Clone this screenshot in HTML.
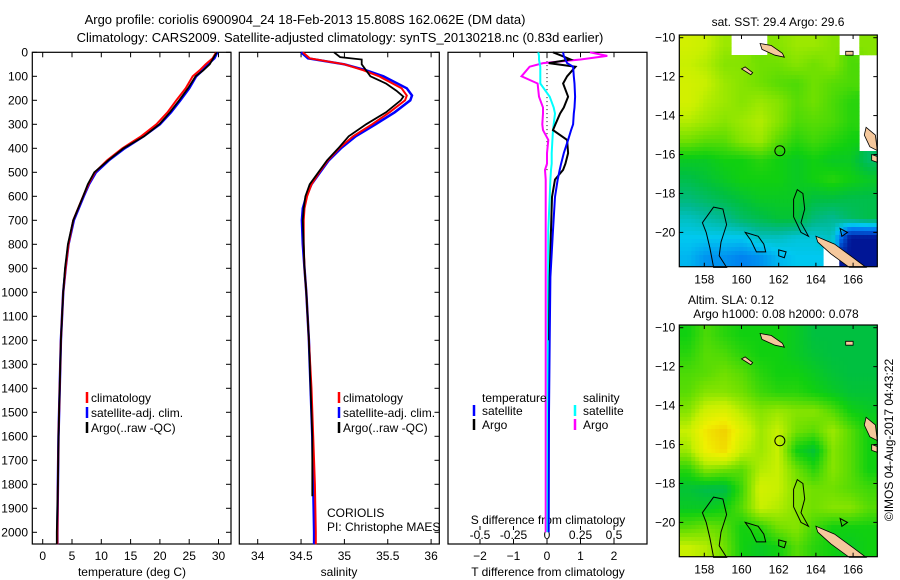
<!DOCTYPE html>
<html><head><meta charset="utf-8">
<style>
html,body{margin:0;padding:0;background:#fff;}
svg{display:block;font-family:"Liberation Sans",sans-serif;}
text{font-size:12px;fill:#000;}
</style></head>
<body>
<svg id="fig" width="900" height="580" viewBox="0 0 900 580" xmlns="http://www.w3.org/2000/svg">
<text x="305" y="24" text-anchor="middle" style="font-size:13px">Argo profile: coriolis 6900904_24 18-Feb-2013 15.808S 162.062E (DM data)</text>
<text x="340" y="42" text-anchor="middle" style="font-size:13px">Climatology: CARS2009. Satellite-adjusted climatology: synTS_20130218.nc (0.83d earlier)</text>
<g id="g"></g>
</svg>
<script>
// ---------- data ----------
const depthTicks=[0,100,200,300,400,500,600,700,800,900,1000,1100,1200,1300,1400,1500,1600,1700,1800,1900,2000];
const tempTicks=[0,5,10,15,20,25,30];
const salTicks=[34,34.5,35,35.5,36];
const salTickLabels=["34","34.5","35","35.5","36"];
const tdTicks=[-2,-1,0,1,2];
const sdTicks=[-0.5,-0.25,0,0.25,0.5];
const sdTickLabels=["-0.5","-0.25","0","0.25","0.5"];

const tDepth=[0,25,50,75,100,150,200,250,300,350,400,450,500,550,600,700,800,900,1000,1200,1400,1600,1800,2000,2050];
const tClim=[29.6,29.0,27.8,26.8,25.6,24.4,22.8,21.3,19.4,16.8,13.6,11.0,8.9,7.8,6.9,5.2,4.4,3.9,3.5,3.1,2.9,2.7,2.6,2.5,2.5];
const tSat=[29.8,29.3,28.2,27.3,26.2,25.0,23.5,21.9,20.0,17.2,14.0,11.3,9.1,7.9,7.0,5.3,4.4,3.9,3.5,3.1,2.9,2.7,2.6,2.5,2.5];
const tArgo=[29.7,29.1,28.5,27.4,26.1,24.8,23.3,21.7,19.9,17.3,13.8,11.2,8.8,7.7,6.9,5.2,4.3,3.8,3.5,3.1,2.9,2.7,2.6,2.4,2.4];

const sDepth=[0,25,50,75,100,150,180,200,250,300,350,400,450,500,550,600,650,700,800,900,1000,1200,1400,1600,1800,2000,2050];
const sClim=[34.52,34.6,35.0,35.22,35.4,35.66,35.72,35.7,35.52,35.32,35.1,34.94,34.81,34.71,34.62,34.57,34.54,34.53,34.53,34.54,34.56,34.59,34.62,34.64,34.66,34.67,34.67];
const sSat=[34.5,34.58,35.0,35.25,35.45,35.72,35.78,35.76,35.58,35.36,35.13,34.96,34.82,34.72,34.62,34.56,34.52,34.51,34.52,34.54,34.56,34.59,34.61,34.63,34.64,34.65,34.65];
const sArgoDepth=[0,20,30,50,75,100,130,160,185,200,250,300,350,400,450,500,550,600,650,700,800,900,1000,1200,1400,1600,1800,1850];
const sArgo=[34.88,34.95,35.2,35.2,35.25,35.3,35.48,35.6,35.68,35.65,35.48,35.25,35.05,34.93,34.8,34.7,34.6,34.55,34.53,34.52,34.53,34.54,34.56,34.59,34.61,34.63,34.63,34.63];

const dDepth=[0,15,30,45,60,100,130,185,230,255,300,324,365,420,464,490,530,603,741,936,1200,1500,2000];
const dTSat=[0.48,0.5,0.55,0.6,0.78,0.8,0.82,0.84,0.82,0.8,0.78,0.72,0.63,0.5,0.42,0.38,0.32,0.24,0.18,0.1,0.08,0.06,0.05];
const dTArgo=[0.18,0.45,0.7,0.05,0.85,0.6,0.48,0.63,0.5,0.39,0.25,0.18,0.6,0.63,0.55,0.48,0.24,0.15,0.12,0.08,0.06,0.05,0.05];
const dSSat=[-0.065,-0.06,-0.06,-0.055,-0.05,-0.05,-0.05,0.02,0.05,0.06,0.05,0.045,0.04,0.035,0.035,0.03,0.025,0.02,0.01,0.008,0.006,0.005,0.004];
const dSArgo=[0.32,0.45,0.25,-0.03,-0.13,-0.19,-0.07,-0.06,-0.03,-0.03,-0.035,-0.03,0.01,0.0,0.0,-0.015,-0.01,-0.01,-0.01,-0.01,-0.01,-0.01,-0.01];

const sstGrid=[
[0.68,0.66,0.62,null,null,0.6,0.62,0.62,0.6,null,0.6],
[0.66,0.64,0.6,0.6,0.58,0.58,0.6,0.58,0.6,0.55,null],
[0.68,0.66,0.62,0.6,0.58,0.56,0.55,0.58,0.56,0.55,null],
[0.68,0.64,0.62,0.6,0.62,0.6,0.56,0.58,0.55,0.52,null],
[0.64,0.62,0.6,0.62,0.64,0.6,0.55,0.56,0.55,0.52,null],
[0.58,0.56,0.56,0.6,0.62,0.56,0.52,0.54,0.52,0.5,null],
[0.48,0.48,0.5,0.5,0.52,0.5,0.48,0.5,0.48,0.48,0.42],
[0.44,0.46,0.48,0.5,0.5,0.5,0.48,0.5,0.52,0.5,0.48],
[0.4,0.42,0.44,0.46,0.48,0.48,0.48,0.45,0.45,0.44,0.44],
[0.34,0.36,0.38,0.42,0.44,0.46,0.46,0.4,0.38,0.42,0.44],
[0.3,0.3,0.3,0.3,0.34,0.34,0.32,0.32,0.34,0.04,0.04],
[0.28,0.24,0.24,0.22,0.24,0.28,0.3,0.3,null,0.04,0.04]];
const slaGrid=[
[0.5,0.55,0.52,0.5,0.5,0.5,0.48,0.45,0.45,0.45,0.45],
[0.52,0.56,0.55,0.52,0.5,0.5,0.48,0.46,0.45,0.45,0.45],
[0.55,0.56,0.58,0.56,0.52,0.5,0.5,0.48,0.46,0.45,0.45],
[0.56,0.6,0.6,0.58,0.54,0.52,0.52,0.5,0.48,0.46,0.46],
[0.6,0.68,0.7,0.64,0.6,0.62,0.6,0.6,0.56,0.5,0.48],
[0.66,0.76,0.8,0.7,0.62,0.66,0.58,0.56,0.62,0.56,0.5],
[0.62,0.74,0.78,0.66,0.62,0.66,0.5,0.46,0.6,0.56,0.5],
[0.52,0.6,0.58,0.56,0.64,0.66,0.58,0.52,0.6,0.56,0.5],
[0.46,0.44,0.44,0.54,0.68,0.66,0.6,0.58,0.58,0.56,0.54],
[0.48,0.48,0.5,0.56,0.66,0.64,0.6,0.58,0.6,0.6,0.56],
[0.56,0.58,0.56,0.5,0.52,0.58,0.6,0.54,0.5,0.5,0.5],
[0.66,0.64,0.58,0.5,0.48,0.5,0.56,0.52,0.5,0.48,0.5]];
const lonTicks=[158,160,162,164,166];
const latTicks=[-10,-12,-14,-16,-18,-20];
const argoLon=162.062, argoLat=-15.808;

// ---------- helpers ----------
const NS="http://www.w3.org/2000/svg";
const G=document.getElementById('g');
function mk(tag,attrs,parent){const e=document.createElementNS(NS,tag);for(const k in attrs)e.setAttribute(k,attrs[k]);(parent||G).appendChild(e);return e;}
const TOP=52.3, PXD=0.24, BOT=544;
const yD=d=>TOP+d*PXD;
const xT=t=>42.7+t*5.86;
const xS=s=>257.7+(s-34)*86.7;
const xTD=v=>547+v*33.5;
const xSD=v=>547+v*134;

function frame(x0,x1,name){const r=mk('rect',{x:x0,y:TOP,width:x1-x0,height:BOT-TOP,fill:'none',stroke:'#000','stroke-width':1.2});}
function line(xs,ys,color,w,name,dash){let d='';for(let i=0;i<xs.length;i++)d+=(i?'L':'M')+xs[i].toFixed(1)+','+ys[i].toFixed(1);const p=mk('path',{d:d,fill:'none',stroke:color,'stroke-width':w});if(dash)p.setAttribute('stroke-dasharray',dash);return p;}
function txt(x,y,s,anchor,name,size){const t=mk('text',{x:x,y:y,'text-anchor':anchor||'start'});if(size)t.style.fontSize=size+'px';t.textContent=s;return t;}

// ---------- panel 1: temperature ----------
frame(32.3,231,'temperature-panel');
depthTicks.forEach(d=>{const y=yD(d);mk('line',{x1:32.3,x2:37,y1:y,y2:y,stroke:'#000'});mk('line',{x1:226,x2:231,y1:y,y2:y,stroke:'#000'});txt(28,y+4,String(d),'end','depth-tick-label');});
tempTicks.forEach(t=>{const x=xT(t);mk('line',{x1:x,x2:x,y1:BOT,y2:BOT-5,stroke:'#000'});mk('line',{x1:x,x2:x,y1:TOP,y2:TOP+5,stroke:'#000'});txt(x,560,String(t),'middle','temperature-tick-label');});
txt(132,576,'temperature (deg C)','middle','temperature-axis-title');
line(tSat.map(xT),tDepth.map(yD),'#0000ff',2.5,'temp-satellite-line');
line(tClim.map(xT),tDepth.map(yD),'#ff0000',2,'temp-climatology-line');
line(tArgo.map(xT),tDepth.map(yD),'#000',1.8,'temp-argo-line');
[['#ff0000','climatology'],['#0000ff','satellite-adj. clim.'],['#000','Argo(..raw -QC)']].forEach((L,i)=>{const y=398+i*15;mk('line',{x1:87,x2:87,y1:y-6,y2:y+5,stroke:L[0],'stroke-width':2.5});txt(91,y+4,L[1],'start','temp-legend-entry');});

// ---------- panel 2: salinity ----------
frame(239.3,439.3,'salinity-panel');
depthTicks.forEach(d=>{const y=yD(d);mk('line',{x1:434.5,x2:439.3,y1:y,y2:y,stroke:'#000'});});
salTicks.forEach((s,i)=>{const x=xS(s);mk('line',{x1:x,x2:x,y1:BOT,y2:BOT-5,stroke:'#000'});mk('line',{x1:x,x2:x,y1:TOP,y2:TOP+5,stroke:'#000'});txt(x,560,salTickLabels[i],'middle','salinity-tick-label');});
txt(339,576,'salinity','middle','salinity-axis-title');
line(sSat.map(xS),sDepth.map(yD),'#0000ff',2.5,'sal-satellite-line');
line(sClim.map(xS),sDepth.map(yD),'#ff0000',2,'sal-climatology-line');
line(sArgo.map(xS),sArgoDepth.map(yD),'#000',1.8,'sal-argo-line');
[['#ff0000','climatology'],['#0000ff','satellite-adj. clim.'],['#000','Argo(..raw -QC)']].forEach((L,i)=>{const y=398+i*15;mk('line',{x1:339,x2:339,y1:y-6,y2:y+5,stroke:L[0],'stroke-width':2.5});txt(343,y+4,L[1],'start','sal-legend-entry');});
txt(327,517,'CORIOLIS','start','data-centre-label');
txt(327,531,'PI: Christophe MAES','start','pi-label');

// ---------- panel 3: differences ----------
frame(448,647,'difference-panel');
tdTicks.forEach(t=>{const x=xTD(t);mk('line',{x1:x,x2:x,y1:BOT,y2:BOT-5,stroke:'#000'});mk('line',{x1:x,x2:x,y1:TOP,y2:TOP+5,stroke:'#000'});txt(x,560,String(t).replace('-','\u2212'),'middle','t-diff-tick-label');});
sdTicks.forEach((s,i)=>{const x=xSD(s);mk('line',{x1:x,x2:x,y1:530,y2:526,stroke:'#000'});txt(x,539,sdTickLabels[i],'middle','s-diff-tick-label');});
txt(548,524,'S difference from climatology','middle','s-diff-axis-title');
txt(548,576,'T difference from climatology','middle','t-diff-axis-title');
line([xTD(0),xTD(0)],[yD(20),yD(500)],'#000',1,'zero-line','1,3');
line(dSArgo.map(xSD),dDepth.map(yD),'#ff00ff',2,'s-diff-argo-line');
line(dSSat.map(xSD),dDepth.map(yD),'#00ffff',2,'s-diff-satellite-line');
line(dTArgo.slice(0,21).map(xTD),dDepth.slice(0,21).map(yD),'#000',2,'t-diff-argo-line');
line(dTSat.map(xTD),dDepth.map(yD),'#0000ff',2,'t-diff-satellite-line');
txt(482,402,'temperature','start','diff-legend-temperature');
txt(583,402,'salinity','start','diff-legend-salinity');
[['#0000ff',474,'satellite',415],['#000',474,'Argo',429],['#00ffff',575,'satellite',415],['#ff00ff',575,'Argo',429]].forEach(L=>{mk('line',{x1:L[1],x2:L[1],y1:L[3]-10,y2:L[3]+1,stroke:L[0],'stroke-width':2.5});txt(L[1]+8,L[3],L[2],'start','diff-legend-entry');});

// ---------- maps ----------
const stops=[[0,'#000080'],[0.2,'#0070f0'],[0.3,'#00c8f0'],[0.38,'#00b890'],[0.45,'#00c040'],[0.5,'#10d010'],[0.58,'#70e000'],[0.66,'#c8f000'],[0.74,'#f0f000'],[0.8,'#f0d000'],[0.9,'#f0a000']];
function hex(c){return [1,3,5].map(i=>parseInt(c.substr(i,2),16));}
function cmap(v){if(v<=stops[0][0])return stops[0][1];for(let i=1;i<stops.length;i++){if(v<=stops[i][0]){const a=stops[i-1],b=stops[i],f=(v-a[0])/(b[0]-a[0]);const A=hex(a[1]),B=hex(b[1]);return 'rgb('+A.map((x,k)=>Math.round(x+(B[k]-x)*f)).join(',')+')';}}return stops[stops.length-1][1];}
const MX0=679.3,MX1=877.3;
function sample(grid,u,v){ // bilinear on cell centres, skipping nulls
  const R=grid.length,C=grid[0].length;
  const nr=Math.min(R-1,Math.max(0,Math.floor(v))),nc=Math.min(C-1,Math.max(0,Math.floor(u)));
  if(grid[nr][nc]===null)return null;
  const uu=Math.min(C-1,Math.max(0,u-0.5)),vv=Math.min(R-1,Math.max(0,v-0.5));
  const c0=Math.floor(uu),r0=Math.floor(vv),c1=Math.min(C-1,c0+1),r1=Math.min(R-1,r0+1),fu=uu-c0,fv=vv-r0;
  const g=(r,c)=>grid[r][c]===null?grid[nr][nc]:grid[r][c];
  return (g(r0,c0)*(1-fu)+g(r0,c1)*fu)*(1-fv)+(g(r1,c0)*(1-fu)+g(r1,c1)*fu)*fv;
}
function drawMap(y0,y1,grid,name,step){
  const lonx=l=>704.3+(l-158)*18.6;
  const laty=l=>y0+2.7+(-10-l)*19.47;
  const g=mk('g',{});
  const rows=grid.length,cols=grid[0].length,W=MX1-MX0,H=y1-y0;
  for(let y=y0;y<y1;y+=step){for(let x=MX0;x<MX1;x+=step){
    const v=sample(grid,(x+step/2-MX0)/W*cols,(y+step/2-y0)/H*rows);if(v===null)continue;
    mk('rect',{x:x,y:y,width:Math.min(step,MX1-x)+0.3,height:Math.min(step,y1-y)+0.3,fill:cmap(v)},g);
  }}
  const P=pts=>pts.map(p=>lonx(p[0]).toFixed(1)+','+laty(p[1]).toFixed(1)).join(' ');
  [[[158.5,-18.7],[159,-18.8],[159.2,-19.6],[158.9,-20.5],[158.8,-21.2],[159.2,-21.8],[158.5,-21.8],[158.3,-20.8],[158.1,-20],[157.9,-19.5]],
   [[163,-17.8],[163.3,-18],[163.4,-18.8],[163.2,-19.5],[163.6,-20.2],[163.2,-20],[162.8,-19.2],[162.8,-18.3]],
   [[160.2,-20],[160.9,-20.2],[161.2,-20.6],[161.3,-21],[160.8,-21],[160.5,-20.4]],
   [[162,-20.9],[162.4,-21],[162.3,-21.3],[162,-21.2]],
   [[165.3,-19.8],[165.7,-20],[165.4,-20.2]]].forEach(pp=>{mk('polygon',{points:P(pp),fill:'none',stroke:'#000','stroke-width':1},g);});
  [[[161,-10.3],[161.6,-10.4],[162.2,-10.8],[162.3,-11],[161.8,-10.9],[161.1,-10.6]],
   [[160.2,-11.5],[160.6,-11.8],[160.5,-11.9],[160,-11.6]],
   [[164,-20.2],[165,-20.6],[166,-21.3],[166.7,-21.8],[165.8,-21.8],[164.8,-21.1],[164.1,-20.5]],
   [[166.7,-14.6],[167.2,-15],[167.3,-15.8],[166.9,-15.6],[166.6,-15]],
   [[167,-16],[167.3,-16.1],[167.3,-16.4],[167,-16.3]],
   [[165.6,-10.7],[166,-10.7],[166,-10.9],[165.6,-10.9]]].forEach(pp=>{const isl=mk('polygon',{points:P(pp),fill:'#f5c89c',stroke:'#000','stroke-width':0.8},g);});
  mk('rect',{x:MX0,y:y0,width:MX1-MX0,height:y1-y0,fill:'none',stroke:'#000','stroke-width':1.2},g);
  const ci=mk('circle',{cx:lonx(argoLon),cy:laty(argoLat),r:5,fill:'none',stroke:'#000','stroke-width':1},g);
  
  lonTicks.forEach(l=>{const x=lonx(l);mk('line',{x1:x,x2:x,y1:y1,y2:y1-4,stroke:'#000'},g);mk('line',{x1:x,x2:x,y1:y0,y2:y0+4,stroke:'#000'},g);txt(x,y1+17,String(l),'middle','lon-tick-label');});
  latTicks.forEach(l=>{const y=laty(l);mk('line',{x1:MX0,x2:MX0+4,y1:y,y2:y,stroke:'#000'},g);mk('line',{x1:MX1-4,x2:MX1,y1:y,y2:y,stroke:'#000'},g);txt(MX0-4,y+4,String(l).replace('-','\u2212'),'end','lat-tick-label');});
}
drawMap(35,266.7,sstGrid,'sst-map',4);
txt(778,26,'sat. SST: 29.4  Argo: 29.6','middle','sst-map-title');
drawMap(325,556.7,slaGrid,'sla-map',4);
txt(731,304,'Altim. SLA: 0.12','middle','sla-map-title');
txt(776,318,'Argo h1000: 0.08 h2000: 0.078','middle','sla-map-subtitle');
const imos=txt(0,0,'\u00a9IMOS 04-Aug-2017 04:43:22','middle','timestamp-label');
imos.setAttribute('transform','translate(893,440) rotate(-90)');
</script>
</body></html>
